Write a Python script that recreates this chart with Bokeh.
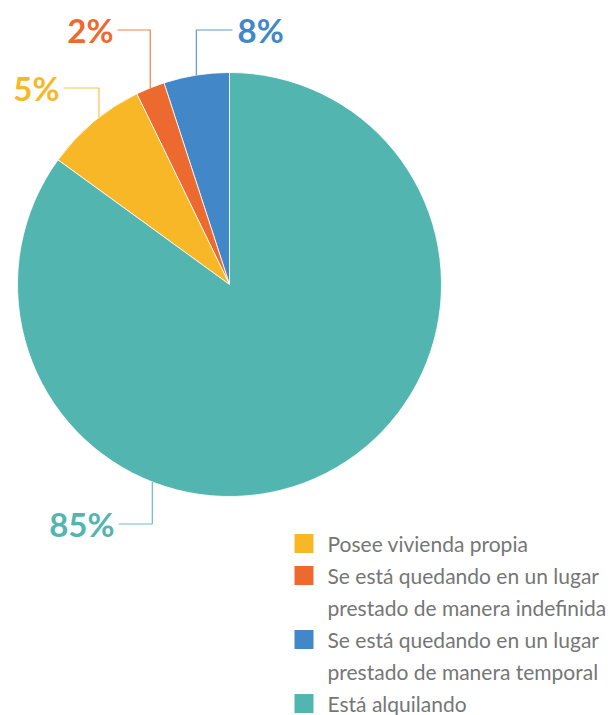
import math
from bokeh.plotting import figure
from bokeh.models import Range1d
from bokeh.embed import file_html
from bokeh.resources import INLINE
from bokeh.core.properties import value

# ---- data (order: counter-clockwise from 12 o'clock) ----
categories = [
    "Se está  quedando en un lugar prestado de manera temporal",
    "Se está quedando en un lugar prestado de manera indefinida",
    "Posee vivienda propia",
    "Está alquilando",
]
slice_values = [5.0, 2.2, 7.8, 85.0]          # visual share of each wedge
slice_labels = ["8%", "2%", "5%", "85%"]      # printed labels
slice_colors = ["#4287c7", "#ec6a2f", "#f8b727", "#52b5b0"]

legend_order = [2, 1, 0, 3]
legend_lines = {
    0: ["Se está  quedando en un lugar", "prestado de manera temporal"],
    1: ["Se está quedando en un lugar", "prestado de manera indefinida"],
    2: ["Posee vivienda propia"],
    3: ["Está alquilando"],
}

# ---- layout (screen pixels; data y = -screen y) ----
W, H = 614, 715
CX, CY, R = 229, -284, 212
leader_frac = [0.5, 0.5, 0.43, 0.342]
leader_level = [29.5, 29.5, 87.5, 523.5]
leader_end = [232, 117, 63, 118]
leader_side = ["right", "left", "left", "left"]

p = figure(width=W, height=H, output_backend="svg", toolbar_location=None,
           x_range=Range1d(0, W), y_range=Range1d(-H, 0),
           min_border=0, border_fill_color="white", background_fill_color="white")
p.axis.visible = False
p.grid.visible = False
p.outline_line_color = None

total = sum(slice_values)
starts, ends = [], []
acc = 0.0
for v in slice_values:
    starts.append(math.pi / 2 + 2 * math.pi * acc / total)
    acc += v
    ends.append(math.pi / 2 + 2 * math.pi * acc / total)

p.wedge(x=[CX] * 4, y=[CY] * 4, radius=R, start_angle=starts, end_angle=ends,
        direction="anticlock", fill_color=slice_colors, line_color="white",
        line_width=0.8)

xs, ys = [], []
for i in range(4):
    a = starts[i] + (ends[i] - starts[i]) * leader_frac[i]
    ax = CX + R * math.cos(a)
    ay = CY + R * math.sin(a)
    ly = -leader_level[i]
    xs.append([ax, ax, leader_end[i]])
    ys.append([ay, ly, ly])
p.multi_line(xs=xs, ys=ys, line_color=slice_colors, line_width=1.2, line_alpha=0.85)

for i in range(4):
    if leader_side[i] == "right":
        tx, align = leader_end[i] + 5, "left"
    else:
        tx, align = leader_end[i] - 4, "right"
    p.text(x=[tx], y=[-leader_level[i]], text=[slice_labels[i]],
           text_font=value("Lato"), text_font_style="bold",
           text_font_size="33px", text_color=slice_colors[i],
           text_align=align, text_baseline="middle")

line_y0, line_step = 543, 32
sq_x, txt_x = 303.5, 327
k = 0
for idx in legend_order:
    y_first = -(line_y0 + line_step * k)
    p.rect(x=[sq_x], y=[y_first], width=19, height=19, width_units="screen",
           height_units="screen", fill_color=slice_colors[idx], line_color=None)
    for ln in legend_lines[idx]:
        p.text(x=[txt_x], y=[-(line_y0 + line_step * k)], text=[ln],
               text_font=value("Lato"), text_font_size="21px",
               text_color="#767676", text_align="left", text_baseline="middle")
        k += 1

open("out.html", "w").write(file_html(p, INLINE))
